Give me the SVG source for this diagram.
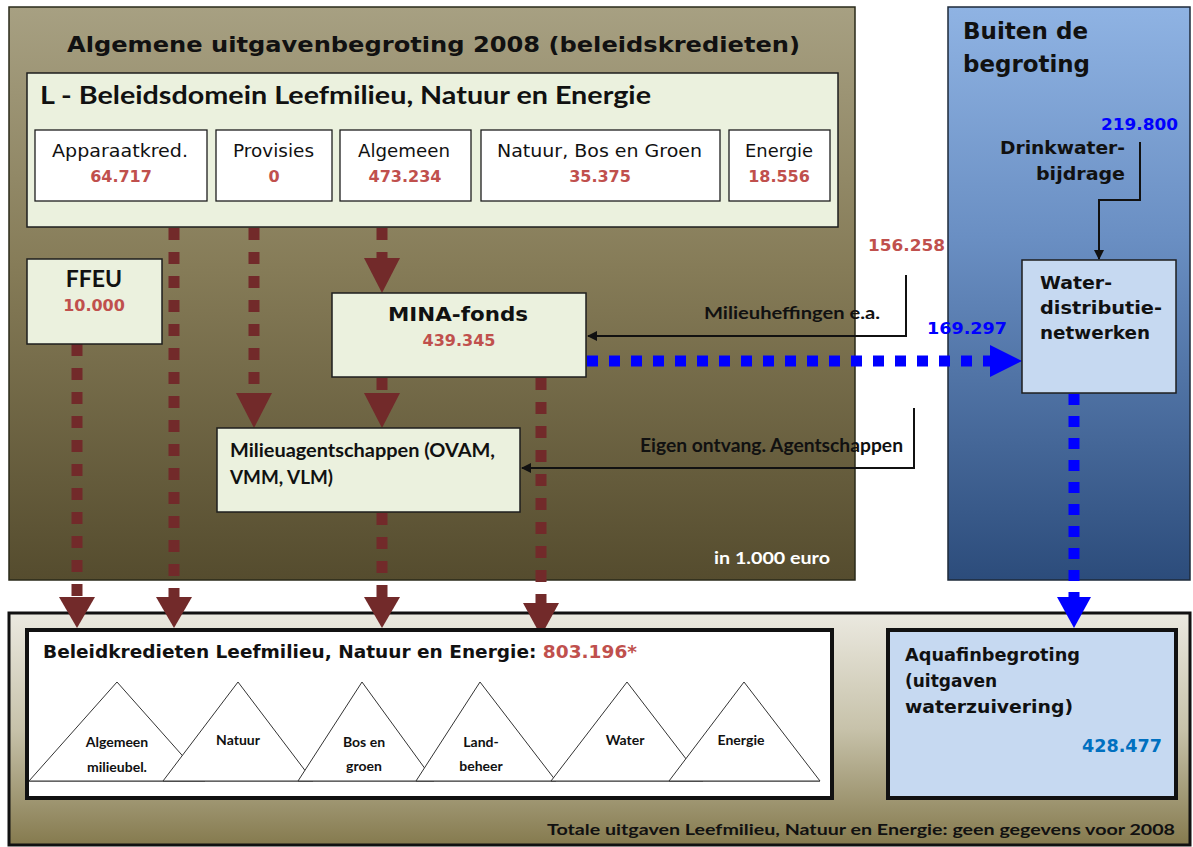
<svg xmlns="http://www.w3.org/2000/svg" width="1193" height="847" viewBox="0 0 1193 847">
<defs>
  <linearGradient id="gBrown" x1="0" y1="0" x2="0" y2="1">
    <stop offset="0" stop-color="#a7a082"/>
    <stop offset="0.45" stop-color="#867c58"/>
    <stop offset="1" stop-color="#554c2e"/>
  </linearGradient>
  <linearGradient id="gBlue" x1="0" y1="0" x2="0" y2="1">
    <stop offset="0" stop-color="#8fb3e3"/>
    <stop offset="0.4" stop-color="#6a8fc3"/>
    <stop offset="1" stop-color="#2c4c7b"/>
  </linearGradient>
  <linearGradient id="gBottom" x1="0" y1="0" x2="0" y2="1">
    <stop offset="0" stop-color="#ebe9e0"/>
    <stop offset="0.5" stop-color="#c7c2aa"/>
    <stop offset="1" stop-color="#857a4e"/>
  </linearGradient>
  <marker id="blk" markerWidth="10" markerHeight="10" refX="9" refY="5" orient="auto" markerUnits="userSpaceOnUse">
    <path d="M0,0 L10,5 L0,10 z" fill="#111"/>
  </marker>
  <style>
    .v { font-family: "DejaVu Sans", Verdana, sans-serif; }
    .c { font-family: Lato, "Open Sans", sans-serif; }
    .b { font-weight: bold; }
    .red { fill: #c0504d; }
    .lg { fill: #ebf1de; stroke: #1e1e1e; stroke-width: 1.5; }
    .wb { fill: #ffffff; stroke: #1e1e1e; stroke-width: 1.3; }
    .rdash { stroke: #722a2a; stroke-width: 11; fill: none; stroke-dasharray: 12 12; }
    .bdash { stroke: #0000ff; stroke-width: 11; fill: none; stroke-dasharray: 11 11; }
    .rhead { fill: #722a2a; }
    .bhead { fill: #0000ff; }
    .line { stroke: #111; stroke-width: 2; fill: none; }
    .tri { fill: #ffffff; stroke: #333; stroke-width: 1; }
  </style>
</defs>

<!-- containers -->
<g id="algemene-begroting">
  <rect x="9" y="7" width="846" height="573" fill="url(#gBrown)" stroke="#2a2a1a" stroke-width="1.5"/>
  <text x="67" y="52" class="v b" font-size="21" fill="#111" textLength="733" lengthAdjust="spacingAndGlyphs">Algemene uitgavenbegroting 2008 (beleidskredieten)</text>
  <text x="714" y="564" class="c b" font-size="17" fill="#ffffff" textLength="116" lengthAdjust="spacingAndGlyphs">in 1.000 euro</text>
</g>

<g id="buiten-begroting">
  <rect x="948" y="7" width="242" height="573" fill="url(#gBlue)" stroke="#1e2a3a" stroke-width="1.5"/>
  <text x="963" y="39" class="v b" font-size="23" fill="#111" textLength="125" lengthAdjust="spacingAndGlyphs">Buiten de</text>
  <text x="963" y="72" class="v b" font-size="23" fill="#111" textLength="127" lengthAdjust="spacingAndGlyphs">begroting</text>
</g>

<g id="totale-uitgaven">
  <rect x="9" y="613" width="1181" height="232" fill="url(#gBottom)" stroke="#111" stroke-width="3"/>
  <text x="547" y="835" class="c b" font-size="15.5" fill="#111" textLength="628" lengthAdjust="spacingAndGlyphs">Totale uitgaven Leefmilieu, Natuur  en Energie:   geen gegevens voor 2008</text>
</g>

<!-- L domain -->
<g id="beleidsdomein-L">
  <rect x="27" y="73" width="811" height="154" class="lg"/>
  <text x="40" y="104" class="c b" font-size="25" fill="#111" textLength="611" lengthAdjust="spacingAndGlyphs">L - Beleidsdomein Leefmilieu, Natuur en Energie</text>
</g>

<g id="apparaatkred">
  <rect x="35" y="130" width="172" height="71" class="wb"/>
  <text x="52" y="157" class="v" font-size="17" fill="#111" textLength="136" lengthAdjust="spacingAndGlyphs">Apparaatkred.</text>
  <text x="121" y="182" class="v b red" font-size="16" text-anchor="middle">64.717</text>
</g>
<g id="provisies">
  <rect x="216" y="130" width="116" height="71" class="wb"/>
  <text x="233" y="157" class="v" font-size="17" fill="#111" textLength="81" lengthAdjust="spacingAndGlyphs">Provisies</text>
  <text x="274" y="182" class="v b red" font-size="16" text-anchor="middle">0</text>
</g>
<g id="algemeen">
  <rect x="340" y="130" width="131" height="71" class="wb"/>
  <text x="358" y="157" class="v" font-size="17" fill="#111" textLength="92" lengthAdjust="spacingAndGlyphs">Algemeen</text>
  <text x="405" y="182" class="v b red" font-size="16" text-anchor="middle">473.234</text>
</g>
<g id="natuur-bos-groen">
  <rect x="481" y="130" width="239" height="71" class="wb"/>
  <text x="497" y="157" class="v" font-size="17" fill="#111" textLength="205" lengthAdjust="spacingAndGlyphs">Natuur, Bos en Groen</text>
  <text x="600" y="182" class="v b red" font-size="16" text-anchor="middle">35.375</text>
</g>
<g id="energie">
  <rect x="729" y="130" width="101" height="71" class="wb"/>
  <text x="745" y="157" class="v" font-size="17" fill="#111" textLength="68" lengthAdjust="spacingAndGlyphs">Energie</text>
  <text x="779" y="182" class="v b red" font-size="16" text-anchor="middle">18.556</text>
</g>

<!-- connectors -->
<g id="connectors">
  <path class="rdash" d="M77,344 V597"/>
  <polygon class="rhead" points="59,597 95,597 77,628"/>
  <path class="rdash" d="M174,228 V597"/>
  <polygon class="rhead" points="156,597 192,597 174,628"/>
  <path class="rdash" d="M254,228 V393"/>
  <polygon class="rhead" points="236,393 272,393 254,428"/>
  <path class="rdash" d="M382,228 V258"/>
  <polygon class="rhead" points="364,258 400,258 382,293"/>
  <path class="rdash" d="M382,378 V393"/>
  <polygon class="rhead" points="364,393 400,393 382,428"/>
  <path class="rdash" d="M382,513 V597"/>
  <polygon class="rhead" points="364,597 400,597 382,628"/>
  <path class="rdash" d="M541,378 V603"/>
  <polygon class="rhead" points="523,603 559,603 541,636"/>

  <path class="line" d="M906,275 V336 H588" marker-end="url(#blk)"/>
  <path class="line" d="M914,408 V468 H522" marker-end="url(#blk)"/>
  <path class="line" d="M1140,142 V200 H1099 V259" marker-end="url(#blk)"/>

  <path class="bdash" d="M587,361 H990"/>
  <polygon class="bhead" points="990,345 1022,361 990,377"/>
  <path class="bdash" d="M1074,394 V597"/>
  <polygon class="bhead" points="1057,597 1091,597 1074,628"/>

  <text x="868" y="251" class="v b red" font-size="16" textLength="77" lengthAdjust="spacingAndGlyphs">156.258</text>
  <text x="704" y="319" class="c b" font-size="17" fill="#111" textLength="176" lengthAdjust="spacingAndGlyphs">Milieuheffingen e.a.</text>
  <text x="927" y="334" class="v b" font-size="16" fill="#0000ff" textLength="80" lengthAdjust="spacingAndGlyphs">169.297</text>
  <text x="640" y="452" class="c b" font-size="18" fill="#111" textLength="263" lengthAdjust="spacingAndGlyphs">Eigen ontvang. Agentschappen</text>
  <text x="1101" y="130" class="v b" font-size="16" fill="#0000ff" textLength="77" lengthAdjust="spacingAndGlyphs">219.800</text>
  <text x="1000" y="154" class="v b" font-size="17" fill="#111" textLength="125" lengthAdjust="spacingAndGlyphs">Drinkwater-</text>
  <text x="1036" y="180" class="v b" font-size="17" fill="#111" textLength="89" lengthAdjust="spacingAndGlyphs">bijdrage</text>
</g>

<!-- nodes -->
<g id="ffeu">
  <rect x="27" y="259" width="135" height="85" class="lg"/>
  <text x="94" y="287" class="c b" font-size="23" fill="#111" text-anchor="middle">FFEU</text>
  <text x="94" y="311" class="v b red" font-size="16" text-anchor="middle">10.000</text>
</g>

<g id="mina-fonds">
  <rect x="332" y="293" width="254" height="84" class="lg"/>
  <text x="388" y="321" class="v b" font-size="20" fill="#111" textLength="140" lengthAdjust="spacingAndGlyphs">MINA-fonds</text>
  <text x="459" y="346" class="v b red" font-size="16" text-anchor="middle">439.345</text>
</g>

<g id="milieuagentschappen">
  <rect x="217" y="428" width="303" height="84" class="lg"/>
  <text x="230" y="457" class="c b" font-size="19" fill="#111" textLength="265" lengthAdjust="spacingAndGlyphs">Milieuagentschappen (OVAM,</text>
  <text x="230" y="484" class="c b" font-size="19" fill="#111" textLength="103" lengthAdjust="spacingAndGlyphs">VMM, VLM)</text>
</g>

<g id="waterdistributie">
  <rect x="1022" y="260" width="154" height="133" fill="#c6d9f1" stroke="#1e1e1e" stroke-width="1.5"/>
  <text x="1040" y="289" class="v b" font-size="18" fill="#111" textLength="72" lengthAdjust="spacingAndGlyphs">Water-</text>
  <text x="1040" y="314" class="v b" font-size="18" fill="#111" textLength="122" lengthAdjust="spacingAndGlyphs">distributie-</text>
  <text x="1040" y="339" class="v b" font-size="18" fill="#111" textLength="110" lengthAdjust="spacingAndGlyphs">netwerken</text>
</g>

<g id="beleidkredieten">
  <rect x="27" y="630" width="805" height="168" fill="#ffffff" stroke="#111" stroke-width="4"/>
  <text x="43" y="658" class="v b" font-size="17" fill="#111" textLength="594" lengthAdjust="spacingAndGlyphs">Beleidkredieten Leefmilieu, Natuur en Energie: <tspan class="red">803.196*</tspan></text>
  <line x1="29" y1="781" x2="820" y2="781" stroke="#333" stroke-width="1"/>
  <polygon class="tri" points="117,682 29,781 205,781"/>
  <polygon class="tri" points="238,682 163,781 313,781"/>
  <polygon class="tri" points="362,682 298,781 434,781"/>
  <polygon class="tri" points="480,682 416,781 556,781"/>
  <polygon class="tri" points="627,682 551,781 703,781"/>
  <polygon class="tri" points="744,682 669,781 820,781"/>
  <g class="c b" font-size="14" fill="#111" text-anchor="middle">
    <text x="117" y="747">Algemeen</text>
    <text x="117" y="772">milieubel.</text>
    <text x="238" y="745">Natuur</text>
    <text x="364" y="747">Bos en</text>
    <text x="364" y="771">groen</text>
    <text x="481" y="747">Land-</text>
    <text x="481" y="771">beheer</text>
    <text x="625" y="745">Water</text>
    <text x="741" y="745">Energie</text>
  </g>
</g>

<g id="aquafin">
  <rect x="888" y="630" width="288" height="168" fill="#c6d9f1" stroke="#111" stroke-width="4"/>
  <text x="905" y="661" class="v b" font-size="17" fill="#111" textLength="175" lengthAdjust="spacingAndGlyphs">Aquafinbegroting</text>
  <text x="905" y="687" class="v b" font-size="17" fill="#111">(uitgaven</text>
  <text x="905" y="713" class="v b" font-size="17" fill="#111" textLength="168" lengthAdjust="spacingAndGlyphs">waterzuivering)</text>
  <text x="1082" y="752" class="v b" font-size="17" fill="#0070c0" textLength="80" lengthAdjust="spacingAndGlyphs">428.477</text>
</g>
</svg>
